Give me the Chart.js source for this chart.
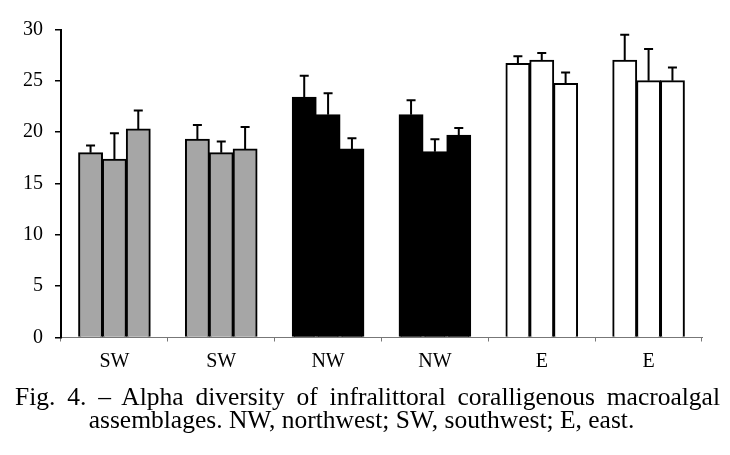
<!DOCTYPE html>
<html>
<head>
<meta charset="utf-8">
<script src="https://cdn.jsdelivr.net/npm/chart.js@4/dist/chart.umd.min.js"></script>
<style>
    html, body { margin: 0; padding: 0; background: #fff; }
    #wrap { position: relative; width: 730px; height: 455px; }
    #caption1, #caption2 {
        position: absolute;
        font-family: "Liberation Serif", "Times New Roman", serif;
        font-size: 25.5px;
        line-height: 24px;
        color: #000;
        white-space: nowrap;
    }
    #caption1 { left: 15px; width: 705px; top: 385px; text-align: justify; text-align-last: justify; white-space: normal; }
    #caption2 { left: 0; width: 723px; top: 407.5px; text-align: center; }
</style>
</head>
<body>
<div id="wrap">
    <canvas id="diversityChart" width="730" height="455"></canvas>
    <div id="caption1">Fig. 4. – Alpha diversity of infralittoral coralligenous macroalgal</div>
    <div id="caption2">assemblages. NW, northwest; SW, southwest; E, east.</div>
</div>
<script>
// дані з рисунку
const categories = ['SW', 'SW', 'NW', 'NW', 'E', 'E'];
const values1 = [18.0, 19.3, 23.4, 21.7, 26.7, 27.0];
const values2 = [17.35, 18.0, 21.7, 18.1, 27.0, 25.0];
const values3 = [20.3, 18.35, 18.35, 19.7, 24.75, 25.0];
const errors1 = [0.7, 1.4, 2.1, 1.4, 0.7, 2.5];
const errors2 = [2.55, 1.1, 2.1, 1.2, 0.7, 3.1];
const errors3 = [1.8, 2.15, 1.05, 0.7, 1.05, 1.3];
const fills = ['#a6a6a6', '#a6a6a6', '#000000', '#000000', '#ffffff', '#ffffff'];

const serif = '"Liberation Serif", "Times New Roman", serif';

// планка похибки тільки вгору
const errorBars = {
    id: 'errorBars',
    afterDatasetsDraw(chart) {
        const ctx = chart.ctx;
        const yScale = chart.scales.y;
        ctx.save();
        ctx.strokeStyle = '#000';
        ctx.lineWidth = 2;
        chart.data.datasets.forEach((ds, i) => {
            const meta = chart.getDatasetMeta(i);
            meta.data.forEach((bar, j) => {
                const top = yScale.getPixelForValue(ds.data[j] + ds.errors[j]);
                ctx.beginPath();
                ctx.moveTo(bar.x, bar.y);
                ctx.lineTo(bar.x, top);
                ctx.moveTo(bar.x - 4.5, top);
                ctx.lineTo(bar.x + 4.5, top);
                ctx.stroke();
            });
        });
        ctx.restore();
    }
};

const makeSet = (data, errors) => ({
    data: data,
    errors: errors,
    backgroundColor: fills,
    borderColor: '#000',
    borderWidth: 2,
    borderSkipped: 'bottom',
    inflateAmount: 0.5,
    barPercentage: 1.0,
    categoryPercentage: 0.67
});

new Chart(document.getElementById('diversityChart'), {
    type: 'bar',
    data: {
        labels: categories,
        datasets: [
            makeSet(values1, errors1),
            makeSet(values2, errors2),
            makeSet(values3, errors3)
        ]
    },
    options: {
        responsive: false,
        animation: false,
        layout: { padding: { left: 0, right: 28, top: 29.5, bottom: 77.5 } },
        plugins: {
            legend: { display: false },
            tooltip: { enabled: false }
        },
        scales: {
            x: {
                afterFit: s => { s.height = 40; },
                grid: { drawOnChartArea: false, tickLength: 4, color: '#777', lineWidth: 1 },
                border: { color: '#777', width: 1 },
                ticks: { color: '#000', padding: 8, font: { family: serif, size: 20 } }
            },
            y: {
                min: 0,
                max: 30,
                afterFit: s => { s.width = 61; },
                grid: { drawOnChartArea: false, tickLength: 6, color: '#000', lineWidth: 1.5 },
                border: { color: '#000', width: 2 },
                ticks: { stepSize: 5, color: '#000', padding: 12, font: { family: serif, size: 20 } }
            }
        }
    },
    plugins: [errorBars]
});
</script>
</body>
</html>
